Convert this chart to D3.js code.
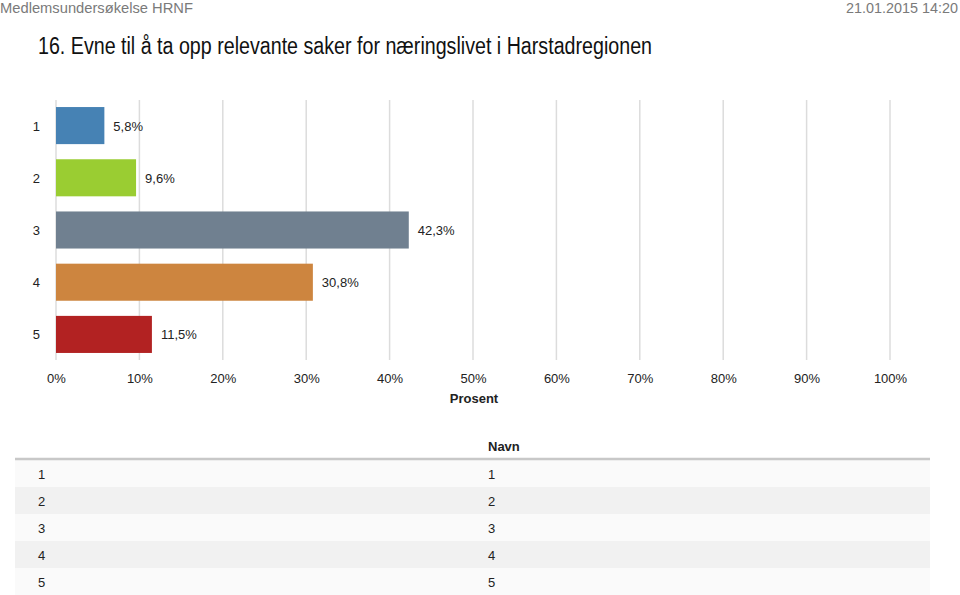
<!DOCTYPE html>
<html><head><meta charset="utf-8">
<script src="https://cdn.jsdelivr.net/npm/d3@7"></script>
<style>body{margin:0;background:#fff;}svg{display:block;font-family:"Liberation Sans Narrow","Liberation Sans",sans-serif;}</style>
</head><body>
<script>
const categories = ["1","2","3","4","5"];
const values = [5.8, 9.6, 42.3, 30.8, 11.5];
const valueLabels = ["5,8%","9,6%","42,3%","30,8%","11,5%"];
const colors = ["#4682b4","#9acd32","#708090","#cd853f","#b22222"];
const ticks = [0,10,20,30,40,50,60,70,80,90,100];
const tableRows = [["1","1"],["2","2"],["3","3"],["4","4"],["5","5"]];

const W=960,H=595;
const svg=d3.select("body").append("svg").attr("width",W).attr("height",H);

svg.append("text").attr("x",0).attr("y",13).attr("font-size",15).attr("fill","#7a7a7a")
  .attr("textLength",193).attr("lengthAdjust","spacingAndGlyphs").text("Medlemsundersøkelse HRNF");
svg.append("text").attr("x",958).attr("y",13).attr("font-size",14).attr("fill","#7a7a7a").attr("text-anchor","end")
  .attr("textLength",112).attr("lengthAdjust","spacingAndGlyphs").text("21.01.2015 14:20");
svg.append("text").attr("x",38).attr("y",54).attr("font-size",23).attr("fill","#111")
  .attr("textLength",614).attr("lengthAdjust","spacingAndGlyphs")
  .text("16. Evne til å ta opp relevante saker for næringslivet i Harstadregionen");

const x=d3.scaleLinear().domain([0,100]).range([56,890]);
const y=d3.scaleBand().domain(categories).range([100,360]).paddingInner(0.29).paddingOuter(0.135);

svg.append("g").selectAll("line").data(ticks).join("line")
  .attr("x1",d=>x(d)).attr("x2",d=>x(d)).attr("y1",100).attr("y2",360)
  .attr("stroke","#dcdcdc").attr("stroke-width",1.5);

svg.append("g").selectAll("rect").data(values).join("rect")
  .attr("x",x(0)).attr("y",(d,i)=>y(categories[i])).attr("width",d=>x(d)-x(0))
  .attr("height",y.bandwidth()).attr("fill",(d,i)=>colors[i]);

svg.append("g").selectAll("text").data(values).join("text")
  .attr("x",d=>x(d)+9).attr("y",(d,i)=>y(categories[i])+y.bandwidth()/2+5)
  .attr("font-size",13).attr("fill","#222").text((d,i)=>valueLabels[i]);

svg.append("g").selectAll("text").data(categories).join("text")
  .attr("x",40).attr("y",c=>y(c)+y.bandwidth()/2+5).attr("text-anchor","end")
  .attr("font-size",13).attr("fill","#222").text(c=>c);

const xAxis=svg.append("g").attr("transform","translate(0,378)")
  .call(d3.axisBottom(x).tickValues(ticks).tickFormat(d=>d+"%").tickSize(0));
xAxis.select(".domain").remove();
xAxis.selectAll("text").attr("font-size",13).attr("fill","#222").attr("dy","0.35em").attr("y",0)
  .attr("font-family","'Liberation Sans Narrow','Liberation Sans',sans-serif");

svg.append("text").attr("x",474).attr("y",403).attr("text-anchor","middle").attr("font-size",13)
  .attr("font-weight","bold").attr("fill","#222").text("Prosent");

// table
const rowY=d3.scaleBand().domain(d3.range(tableRows.length)).range([460,595]);
svg.append("g").selectAll("rect").data(tableRows).join("rect")
  .attr("x",15).attr("width",915).attr("y",(d,i)=>rowY(i)).attr("height",rowY.bandwidth())
  .attr("fill",(d,i)=>i%2?"#f1f1f1":"#fafafa");
svg.append("line").attr("x1",15).attr("x2",930).attr("y1",459).attr("y2",459).attr("stroke","#c8c8c8").attr("stroke-width",2.5);
svg.append("text").attr("x",488).attr("y",451).attr("font-size",13).attr("font-weight","bold").attr("fill","#222").text("Navn");
tableRows.forEach((r,i)=>{
  svg.append("text").attr("x",38).attr("y",rowY(i)+rowY.bandwidth()/2+5).attr("font-size",13).attr("fill","#222").text(r[0]);
  svg.append("text").attr("x",488).attr("y",rowY(i)+rowY.bandwidth()/2+5).attr("font-size",13).attr("fill","#222").text(r[1]);
});
</script>
</body></html>
